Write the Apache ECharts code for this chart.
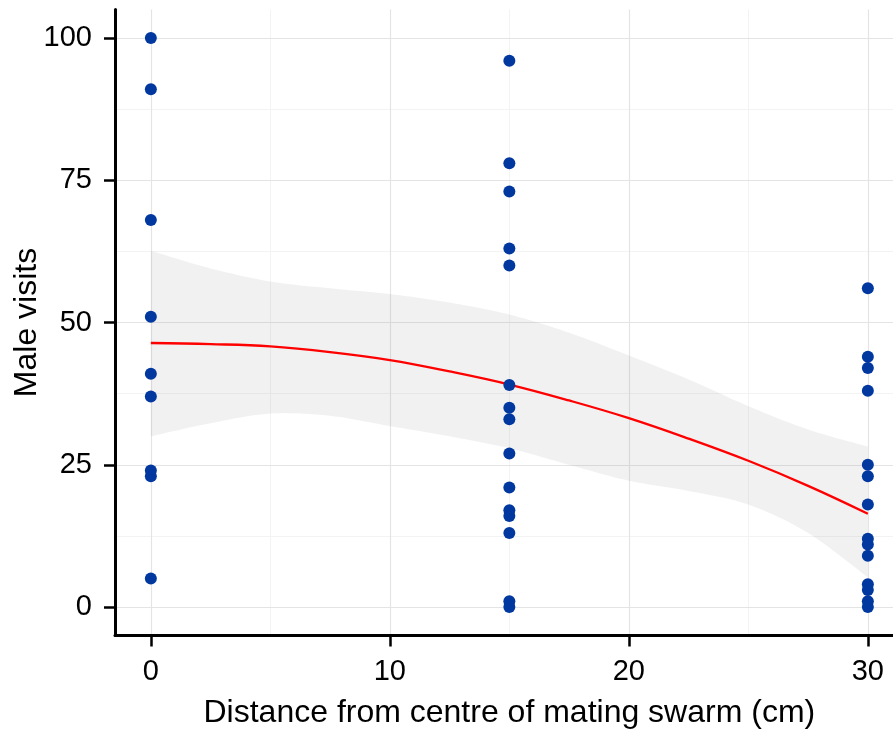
<!DOCTYPE html>
<html>
<head>
<meta charset="utf-8">
<script src="https://cdn.jsdelivr.net/npm/echarts@6/dist/echarts.min.js"></script>
<style>
  html, body { margin: 0; padding: 0; background: #ffffff; }
  #chart { width: 893px; height: 731px; }
</style>
</head>
<body>
<div id="chart"></div>
<script>
// Tick positions on both axes
const distanceBreaks = [0, 10, 20, 30];
const distanceMinorBreaks = [5, 15, 25];
const visitBreaks = [0, 25, 50, 75, 100];
const visitMinorBreaks = [12.5, 37.5, 62.5, 87.5];

// Observed male visits at each distance from the swarm centre (cm)
const groupDistances = [0, 15, 30];
const visitsAt0 = [100, 91, 68, 51, 41, 37, 24, 23, 5];
const visitsAt15 = [96, 78, 73, 63, 60, 39, 35, 33, 27, 21, 17, 16, 13, 1, 0];
const visitsAt30 = [56, 44, 42, 38, 25, 23, 18, 12, 11, 9, 4, 3, 1, 0];

// Fitted trend with its confidence band
const fitDistance = [0, 2.5, 5, 7.5, 10, 12.5, 15, 17.5, 20, 22.5, 25, 27.5, 30];
const fitVisits   = [46.4, 46.2, 45.8, 44.8, 43.4, 41.4, 39.1, 36.3, 33.2, 29.6, 25.7, 21.3, 16.4];
const ciLower     = [30.0, 32.3, 34.0, 33.6, 31.8, 30.0, 27.9, 25.0, 22.2, 20.4, 18.0, 13.0, 5.2];
const ciUpper     = [62.6, 59.5, 57.2, 56.0, 55.0, 53.5, 51.4, 48.2, 44.2, 40.0, 35.3, 31.2, 28.2];

const points = [];
[visitsAt0, visitsAt15, visitsAt30].forEach((vals, i) => {
  vals.forEach(v => points.push([groupDistances[i], v]));
});

const font = 'Liberation Sans, Arial, Helvetica, sans-serif';
const majorGrid = { color: '#e4e4e4', width: 1.2, type: 'solid' };
const minorGrid = { color: '#f3f3f3', width: 1, type: 'solid' };

const gridLines = []
  .concat(visitMinorBreaks.map(v => ({ yAxis: v, lineStyle: minorGrid })))
  .concat(distanceMinorBreaks.map(v => ({ xAxis: v, lineStyle: minorGrid })))
  .concat(visitBreaks.map(v => ({ yAxis: v, lineStyle: majorGrid })))
  .concat(distanceBreaks.map(v => ({ xAxis: v, lineStyle: majorGrid })));

// Smooth a pixel-space polyline with Catmull-Rom segments for drawing
function smoothPixels(pts, steps) {
  const out = [];
  const n = pts.length;
  for (let i = 0; i < n - 1; i++) {
    const p0 = pts[Math.max(i - 1, 0)];
    const p1 = pts[i];
    const p2 = pts[i + 1];
    const p3 = pts[Math.min(i + 2, n - 1)];
    const c1 = [p1[0] + (p2[0] - p0[0]) / 6, p1[1] + (p2[1] - p0[1]) / 6];
    const c2 = [p2[0] - (p3[0] - p1[0]) / 6, p2[1] - (p3[1] - p1[1]) / 6];
    for (let s = 0; s < steps; s++) {
      const t = s / steps, u = 1 - t;
      out.push([
        u * u * u * p1[0] + 3 * u * u * t * c1[0] + 3 * u * t * t * c2[0] + t * t * t * p2[0],
        u * u * u * p1[1] + 3 * u * u * t * c1[1] + 3 * u * t * t * c2[1] + t * t * t * p2[1]
      ]);
    }
  }
  out.push(pts[n - 1]);
  return out;
}

function renderBand(params, api) {
  const upper = fitDistance.map((x, i) => api.coord([x, ciUpper[i]]));
  const lower = fitDistance.map((x, i) => api.coord([x, ciLower[i]]));
  const poly = smoothPixels(upper, 12).concat(smoothPixels(lower, 12).reverse());
  return {
    type: 'polygon',
    shape: { points: poly },
    style: { fill: 'rgba(130,130,130,0.11)' },
    silent: true
  };
}

const axisCommon = {
  type: 'value',
  axisLine: { show: true, onZero: false, lineStyle: { color: '#000', width: 3 } },
  axisTick: { show: true, length: 11, lineStyle: { color: '#000', width: 2.5 } },
  splitLine: { show: false },
  nameLocation: 'middle',
  nameMoveOverlap: false,
  nameTextStyle: { fontFamily: font, fontSize: 32, color: '#000' }
};

const chart = echarts.init(document.getElementById('chart'), null, { renderer: 'canvas' });
chart.setOption({
  animation: false,
  backgroundColor: '#ffffff',
  grid: { left: 115, right: -10.7, top: 9.5, bottom: 95.5, containLabel: false, outerBoundsMode: 'none' },
  xAxis: Object.assign({}, axisCommon, {
    min: -1.5, max: 31.5,
    name: 'Distance from centre of mating swarm (cm)',
    nameGap: 62,
    axisTick: Object.assign({}, axisCommon.axisTick, { customValues: distanceBreaks }),
    axisLabel: { customValues: distanceBreaks, margin: 22, fontFamily: font, fontSize: 29, color: '#000' }
  }),
  yAxis: Object.assign({}, axisCommon, {
    min: -5, max: 105,
    name: 'Male visits',
    nameGap: 72,
    axisTick: Object.assign({}, axisCommon.axisTick, { customValues: visitBreaks }),
    axisLabel: { customValues: visitBreaks, margin: 23, fontFamily: font, fontSize: 29, color: '#000' }
  }),
  series: [
    {
      name: 'grid',
      type: 'line',
      data: [],
      z: 0,
      silent: true,
      markLine: {
        z: 0,
        silent: true,
        symbol: ['none', 'none'],
        label: { show: false },
        emphasis: { disabled: true },
        data: gridLines
      }
    },
    {
      name: 'ci-band',
      type: 'custom',
      z: 1,
      silent: true,
      renderItem: renderBand,
      data: [0]
    },
    {
      name: 'fit',
      type: 'line',
      z: 2,
      symbol: 'none',
      smooth: 0.4,
      lineStyle: { color: '#ff0000', width: 2.3 },
      data: fitDistance.map((x, i) => [x, fitVisits[i]])
    },
    {
      name: 'visits',
      type: 'scatter',
      z: 3,
      symbol: 'circle',
      symbolSize: 12,
      itemStyle: { color: '#0038a0', opacity: 1 },
      data: points
    }
  ]
});
</script>
</body>
</html>
